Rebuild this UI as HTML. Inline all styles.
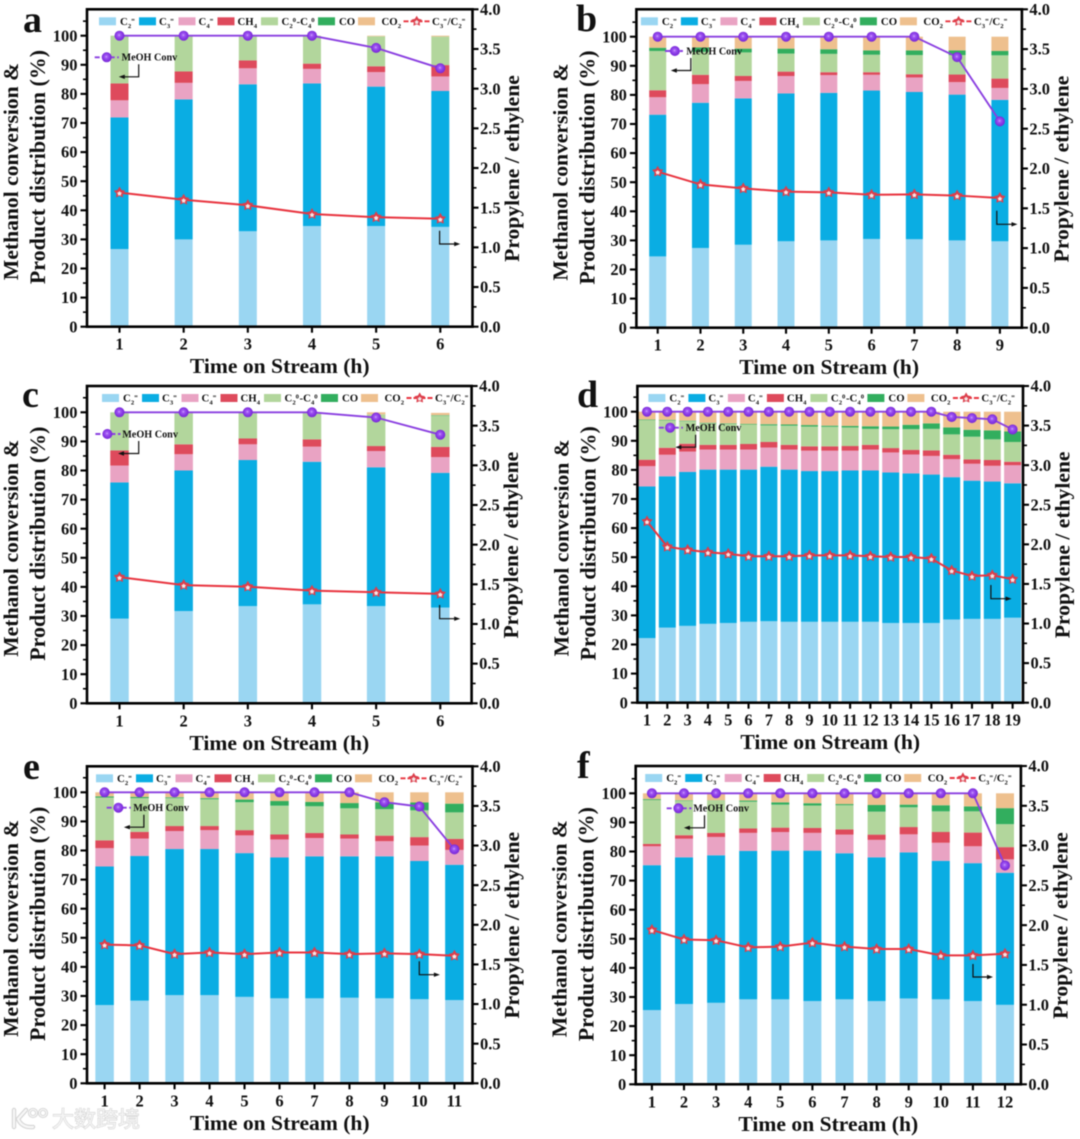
<!DOCTYPE html>
<html lang="en">
<head>
<meta charset="utf-8">
<title>Methanol conversion and product distribution panels</title>
<style>
html,body{margin:0;padding:0;background:#fff;}
body{width:1080px;height:1139px;overflow:hidden;}
#fig{display:block;filter:blur(0.5px);font-family:"Liberation Serif","Noto Serif CJK SC",serif;}
text{font-family:"Liberation Serif","Noto Serif CJK SC",serif;font-weight:bold;fill:#111;}
</style>
</head>
<body>
<svg id="fig" xmlns="http://www.w3.org/2000/svg" width="1080" height="1139" viewBox="0 0 1080 1139">
<defs>
<radialGradient id="sphere" cx="46%" cy="44%" r="58%">
<stop offset="0" stop-color="#d4b4ff"/><stop offset="0.22" stop-color="#a45cf4"/><stop offset="0.6" stop-color="#8a3ce6"/><stop offset="1" stop-color="#7a2ad8"/>
</radialGradient>
</defs>
<g id="panels"></g>
<g>
<g fill="none" stroke="#d4d4d4" stroke-width="4.4" stroke-linecap="round">
<path d="M14 1110V1127M26 1110L18 1119Q22 1128 33 1127"/>
<circle cx="33" cy="1113" r="3.6" stroke-width="3"/><circle cx="43" cy="1113" r="3.6" stroke-width="3"/>
</g>
<g fill="none" stroke="#f7f7f7" stroke-width="2.2" stroke-linecap="round">
<path d="M14 1110V1127M26 1110L18 1119Q22 1128 33 1127"/>
<circle cx="33" cy="1113" r="3.6" stroke-width="1.2"/><circle cx="43" cy="1113" r="3.6" stroke-width="1.2"/>
</g>
<text x="52" y="1127" font-size="22" style="fill:#f4f4f4;stroke:#cdcdcd;stroke-width:.9;paint-order:stroke;font-family:'Noto Sans CJK SC',sans-serif;font-weight:normal;">大数跨境</text>
</g>
</svg>
<script>
// ---------- chart data ----------
const seriesNames = ['C2=','C3=','C4=','CH4','C2-C4 alkanes','CO','CO2'];
const seriesColors = ['#9ad6f2','#0aade3','#e9a3c3','#de4a5c','#b2d69c','#32ae5e','#eec08e'];
const leftTicks = [0,10,20,30,40,50,60,70,80,90,100];
const rightTicks = ['0.0','0.5','1.0','1.5','2.0','2.5','3.0','3.5','4.0'];
const xAxisTitle = 'Time on Stream (h)';
const leftTitleLine1 = 'Methanol conversion &';
const leftTitleLine2 = 'Product distribution (%)';
const rightTitle = 'Propylene / ethylene';
const meohLabel = 'MeOH Conv';

const aCategories = [1,2,3,4,5,6];
const aC2 = [26.7,30,32.8,34.6,34.6,34.3];
const aC3 = [45.2,48.1,50.5,49,47.9,46.7];
const aC4 = [5.9,5.7,5.5,5,5,5];
const aCH4 = [5.8,3.9,2.7,1.8,2,3.9];
const aAlk = [16.4,12.3,8.5,9.6,10.3,9.8];
const aCO = [0,0,0,0,0,0];
const aCO2 = [0,0,0,0,0.2,0.3];
const aMeoh = [100,100,100,100,95.8,88.8];
const aRatio = [1.69,1.6,1.53,1.42,1.38,1.36];

const bCategories = [1,2,3,4,5,6,7,8,9];
const bC2 = [24.5,27.4,28.5,29.7,30,30.5,30.4,30,29.7];
const bC3 = [48.7,49.9,50.3,50.8,50.7,51,50.6,50.1,48.6];
const bC4 = [6,6.4,6,6,6.1,5.4,5,4.3,4.1];
const bCH4 = [2.4,3.2,1.7,1.5,1,0.9,1.1,2.6,3.2];
const bAlk = [13.5,7.9,8.1,6.2,6.3,6,6.6,6.7,8];
const bCO = [1.1,1.5,1.3,1.7,1.6,1.5,1.6,1.6,1.5];
const bCO2 = [3.8,3.7,4.1,4.1,4.3,4.7,4.7,4.7,4.9];
const bMeoh = [100,100,100,100,100,100,100,93,70.9];
const bRatio = [1.96,1.8,1.75,1.71,1.7,1.67,1.675,1.66,1.63];

const cCategories = [1,2,3,4,5,6];
const cC2 = [29.1,31.7,33.4,34,33.4,32.9];
const cC3 = [46.8,48.3,50.2,49,47.7,46.3];
const cC4 = [5.8,5.6,5.4,5.2,5.6,5.4];
const cCH4 = [5.2,3.4,2,2.5,1.7,3.5];
const cAlk = [13.1,11,9,9.3,10.9,10.7];
const cCO = [0,0,0,0,0,0.2];
const cCO2 = [0,0,0,0,0.7,0.8];
const cMeoh = [100,100,100,100,98.2,92.3];
const cRatio = [1.59,1.49,1.47,1.42,1.4,1.38];

const dCategories = [1,2,3,4,5,6,7,8,9,10,11,12,13,14,15,16,17,18,19];
const dC2 = [22.2,25.8,26.4,27.1,27.4,27.8,28,27.8,27.8,27.8,27.8,27.8,27.4,27.4,27.4,28.6,28.8,28.8,29.2];
const dC3 = [52.1,52,52.9,53,52.7,52.3,53.1,52.3,51.8,51.8,52,52,51.7,51.4,51,48.9,47.5,47.2,46.2];
const dC4 = [7,7.4,7,6.9,6.9,6.9,6.6,6.9,7,7,6.8,7.2,6.9,6.5,6.4,6.2,5.8,5.4,6.2];
const dCH4 = [2.2,2.4,2.7,1.6,1.6,1.9,1.9,1.6,1.5,1.5,1.6,1.6,1.5,1.6,1.9,1.5,1.5,2,1.2];
const dAlk = [13.6,9.4,7.7,7.4,7.2,6.7,5.7,6.6,6.8,6.7,6.4,5.5,6.5,7.1,7.4,7,7.8,7.1,6.8];
const dCO = [0.2,0.2,0.2,0.2,0.2,0.2,0.4,0.4,0.5,0.4,0.5,0.9,0.9,1.5,1.9,2.4,2.4,3.1,3.6];
const dCO2 = [2.7,2.8,3.1,3.8,4,4.2,4.3,4.4,4.6,4.8,4.9,5,5.1,4.5,4,5.4,6.2,6.4,6.8];
const dMeoh = [100,100,100,100,100,100,100,100,100,100,100,100,100,100,100,98.2,97.8,97.4,93.9];
const dRatio = [2.29,1.97,1.93,1.9,1.88,1.85,1.85,1.85,1.86,1.86,1.86,1.85,1.84,1.84,1.82,1.67,1.6,1.61,1.56];

const eCategories = [1,2,3,4,5,6,7,8,9,10,11];
const eC2 = [26.9,28.4,30.3,30.3,29.7,29.2,29.2,29.4,29.2,28.9,28.6];
const eC3 = [47.6,49.7,50.2,50.2,49.4,48.4,48.8,48.6,48.8,47.5,46.5];
const eC4 = [6.3,6,6.2,6.5,6.1,6.2,6.3,6.1,5.2,5.3,5.1];
const eCH4 = [2.7,2.3,1.7,1.4,1.8,1.7,1.7,1.4,1.9,2.9,3.8];
const eAlk = [14.7,11.6,9.6,9.2,9.6,9.9,9.2,9,9.1,9.2,9.1];
const eCO = [0.4,0.4,0.3,0.4,0.9,1.6,1.5,1.8,2.4,2.7,3];
const eCO2 = [1.4,1.6,1.7,2,2.5,3,3.3,3.7,3.4,3.5,3.9];
const eMeoh = [100,100,100,100,100,100,100,100,96.6,95.1,80.4];
const eRatio = [1.75,1.74,1.63,1.65,1.63,1.65,1.65,1.63,1.64,1.63,1.61];

const fCategories = [1,2,3,4,5,6,7,8,9,10,11,12];
const fC2 = [25.5,27.6,28,29.2,29.2,28.6,29.2,28.6,29.5,29.2,28.6,27.3];
const fC3 = [49.8,50.4,50.7,51,51.1,51.7,50.2,49.4,50.2,47.6,47.4,45.4];
const fC4 = [6.5,6.4,6.3,6.2,6.4,6.1,6.4,6,6.2,6.2,5.8,4.6];
const fCH4 = [0.8,1.2,1.4,1.5,1.5,1.7,1.8,1.8,2.5,3.7,4.7,4.2];
const fAlk = [15.1,11.8,11.1,9.2,7.9,7.7,8.3,7.9,6.8,7.1,7.3,7.9];
const fCO = [0.3,0.2,0.1,0.4,0.8,0.8,0.4,2.3,0.9,2.1,1.7,5.5];
const fCO2 = [2,2.4,2.4,2.5,3.1,3.4,3.7,4,3.9,4.1,4.5,5.1];
const fMeoh = [100,100,100,100,100,100,100,100,100,100,100,75.2];
const fRatio = [1.94,1.82,1.81,1.72,1.73,1.78,1.73,1.7,1.7,1.62,1.62,1.64];

// ---------- drawing ----------
const NS = 'http://www.w3.org/2000/svg';
const root = document.getElementById('panels');
function mk(parent, tag, attrs, txt) {
  const el = document.createElementNS(NS, tag);
  for (const k in attrs) el.setAttribute(k, attrs[k]);
  if (txt !== undefined) el.textContent = txt;
  parent.appendChild(el);
  return el;
}
function starPts(cx, cy, R, r) {
  const p = [];
  for (let i = 0; i < 10; i++) {
    const a = -Math.PI / 2 + i * Math.PI / 5;
    const q = i % 2 ? r : R;
    p.push((cx + q * Math.cos(a)).toFixed(1) + ',' + (cy + q * Math.sin(a)).toFixed(1));
  }
  return p.join(' ');
}
function drawStar(g, cx, cy, R) {
  const outer = mk(g, 'polygon', {points: starPts(cx, cy, R, R * 0.55), fill: '#dc3f4c'});
  
  
  const inner = mk(g, 'polygon', {points: starPts(cx, cy + 0.9, R * 0.42, R * 0.26), fill: '#f4e6e6'});
  
  
}
function drawSphere(g, cx, cy, r) {
  const c = mk(g, 'circle', {cx: cx, cy: cy, r: r, fill: 'url(#sphere)', stroke: '#7a2ad8', 'stroke-width': 0.6});
  
  
}
function drawElbow(g, x0, y0, x1, y1, name) {
  const line = mk(g, 'path', {d: 'M' + x0 + ' ' + y0 + 'V' + y1 + 'H' + (x1 + (x1 > x0 ? -4 : 4)), fill: 'none', stroke: '#111', 'stroke-width': 1.2});
  
  
  const d = x1 > x0 ? -6 : 6;
  const head = mk(g, 'polygon', {points: x1 + ',' + y1 + ' ' + (x1 + d) + ',' + (y1 - 2.2) + ' ' + (x1 + d) + ',' + (y1 + 2.2), fill: '#111'});
  
  
}
function scriptLabel(parent, x, y, size, base, sub, sup) {
  const t = mk(parent, 'text', {x: x, y: y, 'font-size': size});
  
  
  mk(t, 'tspan', {}, base);
  if (sub) mk(t, 'tspan', {dy: size * 0.28, 'font-size': size * 0.62}, sub);
  if (sup) mk(t, 'tspan', {dy: -size * 0.55, 'font-size': size * 0.62}, sup);
  if (sup) mk(t, 'tspan', {dy: size * 0.27, 'font-size': size * 0.2}, ' ');
  return t;
}
// legend offsets relative to the panel frame
const legendSwatchX = [12,52,91.5,130.5,174,231,271];
const legendTextX = [33,72,111.5,150.5,194.5,251,294.5];

function drawPanel(cfg) {
  const g = mk(root, 'g', {});
  
  
  const L = cfg.left, R = cfg.right, T = cfg.top, B = cfg.bottom;
  const leftMax = (B - T) / 2.91;            // 2.91 px per percentage point
  const yL = v => B - (v / leftMax) * (B - T);
  const yR = v => B - (v / 4) * (B - T);
  const xS = i => cfg.x1 + i * (cfg.xN - cfg.x1) / (cfg.categories.length - 1);

  // bars
  const bars = mk(g, 'g', {});
  
  
  cfg.categories.forEach((cat, i) => {
    let acc = 0;
    cfg.series.forEach((arr, s) => {
      const v = arr[i];
      if (v <= 0) return;
      const y1 = yL(acc + v), y0 = yL(acc);
      const r = mk(bars, 'rect', {x: xS(i) - cfg.barW / 2, y: y1, width: cfg.barW, height: y0 - y1, fill: seriesColors[s]});
      
      
      acc += v;
    });
  });

  // axis frame
  const frame = mk(g, 'rect', {x: L, y: T, width: R - L, height: B - T, fill: 'none', stroke: '#000', 'stroke-width': 2.6});
  
  

  // left axis ticks
  const lAxis = mk(g, 'g', {});
  
  
  for (let v = 0; v <= 105; v += 5) {
    const major = v % 10 === 0;
    const tk = mk(lAxis, 'line', {x1: L - (major ? 6.5 : 4), x2: L, y1: yL(v), y2: yL(v), stroke: '#000', 'stroke-width': major ? 2.1 : 1.6});
    
    
  }
  leftTicks.forEach(v => {
    const t = mk(lAxis, 'text', {x: L - 9.5, y: yL(v) + 5.6, 'font-size': 16.5, 'text-anchor': 'end'}, String(v));
    
    
  });

  // right axis ticks
  const rAxis = mk(g, 'g', {});
  
  
  for (let k = 0; k <= 16; k++) {
    const major = k % 2 === 0;
    const y = yR(k / 4);
    const tk = mk(rAxis, 'line', {x1: R, x2: R + (major ? 6 : 4), y1: y, y2: y, stroke: '#000', 'stroke-width': major ? 2.1 : 1.6});
    
    
  }
  rightTicks.forEach(lbl => {
    const t = mk(rAxis, 'text', {x: R + 7.5, y: yR(parseFloat(lbl)) + 5.6, 'font-size': 16.5}, lbl);
    
    
  });

  // x axis
  const xAxis = mk(g, 'g', {});
  
  
  cfg.categories.forEach((cat, i) => {
    const tk = mk(xAxis, 'line', {x1: xS(i), x2: xS(i), y1: B, y2: B + 6, stroke: '#000', 'stroke-width': 2.1});
    
    
    const t = mk(xAxis, 'text', {x: xS(i), y: B + 23, 'font-size': 16.5, 'text-anchor': 'middle'}, String(cat));
    
    
  });

  // titles
  const xT = mk(g, 'text', {x: (L + R) / 2, y: B + 46.5, 'font-size': 21.6, 'text-anchor': 'middle'}, xAxisTitle);
  
  
  const cy = (T + B) / 2;
  const t1 = mk(g, 'text', {transform: 'translate(' + (L - 69) + ' ' + (cy + 3.5) + ') rotate(-90)', 'font-size': 21.6, 'text-anchor': 'middle'}, leftTitleLine1);
  
  
  const t2 = mk(g, 'text', {transform: 'translate(' + (L - 42) + ' ' + (cy - 1) + ') rotate(-90)', 'font-size': 22, 'text-anchor': 'middle'}, leftTitleLine2);
  
  
  const t3 = mk(g, 'text', {transform: 'translate(' + (R + 46.5) + ' ' + (cy + 0.5) + ') rotate(-90)', 'font-size': 21.6, 'text-anchor': 'middle'}, rightTitle);
  
  

  // panel letter
  const pl = mk(g, 'text', {x: cfg.letterX, y: cfg.letterY, 'font-size': 38}, cfg.id);
  
  

  // conversion line
  const meohPts = cfg.meoh.map((v, i) => xS(i) + ',' + yL(v)).join(' ');
  const ml = mk(g, 'polyline', {points: meohPts, fill: 'none', stroke: '#8a3fe0', 'stroke-width': 1.9});
  
  
  cfg.meoh.forEach((v, i) => drawSphere(g, xS(i), yL(v), 4.7));

  // ratio line
  const ratioPts = cfg.ratio.map((v, i) => xS(i) + ',' + yR(v)).join(' ');
  const rl = mk(g, 'polyline', {points: ratioPts, fill: 'none', stroke: '#e8343f', 'stroke-width': 2});
  
  
  cfg.ratio.forEach((v, i) => drawStar(g, xS(i), yR(v), 6));

  // top legend
  const lg = mk(g, 'g', {});
  
  
  const ly = T + 12, ldx = L + cfg.legendDx;
  seriesColors.forEach((col, s) => {
    const sw = mk(lg, 'rect', {x: ldx + legendSwatchX[s], y: ly - 4, width: 17, height: 8, fill: col});
    
    
  });
  const fs = 10.8, by = ly + 3.6;
  scriptLabel(lg, ldx + legendTextX[0], by, fs, 'C', '2', '=');
  scriptLabel(lg, ldx + legendTextX[1], by, fs, 'C', '3', '=');
  scriptLabel(lg, ldx + legendTextX[2], by, fs, 'C', '4', '=');
  scriptLabel(lg, ldx + legendTextX[3], by, fs, 'CH', '4');
  const alk = scriptLabel(lg, ldx + legendTextX[4], by, fs, 'C', '2', '0');
  mk(alk, 'tspan', {'font-size': fs}, '-C');
  mk(alk, 'tspan', {dy: fs * 0.28, 'font-size': fs * 0.62}, '4');
  mk(alk, 'tspan', {dy: -fs * 0.55, 'font-size': fs * 0.62}, '0');
  scriptLabel(lg, ldx + legendTextX[5] + 1, by, fs, 'CO');
  scriptLabel(lg, ldx + legendTextX[6], by, fs, 'CO', '2');
  const ll = mk(lg, 'line', {x1: ldx + 316.5, x2: ldx + 343, y1: ly, y2: ly, stroke: '#e8343f', 'stroke-width': 1.9, 'stroke-dasharray': '5 2'});
  
  
  drawStar(lg, ldx + 329.7, ly, 5.6);
  const rat = scriptLabel(lg, ldx + 345, by, fs, 'C', '3', '=');
  mk(rat, 'tspan', {'font-size': fs}, '/C');
  mk(rat, 'tspan', {dy: fs * 0.28, 'font-size': fs * 0.62}, '2');
  mk(rat, 'tspan', {dy: -fs * 0.55, 'font-size': fs * 0.62}, '=');

  // MeOH legend + arrows
  const m = cfg.meohLegend;
  const mleg = mk(g, 'line', {x1: m.x0, x2: m.x1, y1: m.y, y2: m.y, stroke: '#8a3fe0', 'stroke-width': 1.9, 'stroke-dasharray': '5 2.5'});
  
  
  drawSphere(g, m.mark, m.y, 4.7);
  const mt = mk(g, 'text', {x: m.text, y: m.y + 3.4, 'font-size': 10.2}, meohLabel);
  
  
  drawElbow(g, m.ax, m.y + 7, m.ax2, m.y + 19.5, 'left-axis-arrow');
  drawElbow(g, cfg.rArrow.x0, cfg.rArrow.y0, cfg.rArrow.x1, cfg.rArrow.y1, 'right-axis-arrow');
}

drawPanel({id:'a',left:87,right:472.5,top:9.3,bottom:326.7,x1:119.5,xN:440.3,barW:18,legendDx:0,letterX:23,letterY:32,
  categories:aCategories,series:[aC2,aC3,aC4,aCH4,aAlk,aCO,aCO2],meoh:aMeoh,ratio:aRatio,
  meohLegend:{x0:94.7,x1:118.8,mark:106.7,text:121.5,y:57.3,ax:138.7,ax2:118.8},
  rArrow:{x0:439.6,y0:230.7,x1:460.2,y1:244}});
drawPanel({id:'b',left:636.4,right:1021.9,top:9.3,bottom:327.7,x1:657.7,xN:999.9,barW:17,legendDx:-7.5,letterX:576,letterY:31,
  categories:bCategories,series:[bC2,bC3,bC4,bCH4,bAlk,bCO,bCO2],meoh:bMeoh,ratio:bRatio,
  meohLegend:{x0:665,x1:682.9,mark:674.9,text:686.3,y:51,ax:690.8,ax2:670.8},
  rArrow:{x0:996.8,y0:210.7,x1:1017.5,y1:224.3}});
drawPanel({id:'c',left:87,right:471.6,top:386,bottom:703.3,x1:119.5,xN:440.3,barW:18.5,legendDx:3,letterX:22,letterY:407,
  categories:cCategories,series:[cC2,cC3,cC4,cCH4,cAlk,cCO,cCO2],meoh:cMeoh,ratio:cRatio,
  meohLegend:{x0:95.4,x1:120.5,mark:107.4,text:122.2,y:434,ax:138.7,ax2:118},
  rArrow:{x0:439.6,y0:605,x1:460.2,y1:618.7}});
drawPanel({id:'d',left:637.4,right:1023,top:386,bottom:702.7,x1:647,xN:1012.6,barW:17,legendDx:-1,letterX:577,letterY:407,
  categories:dCategories,series:[dC2,dC3,dC4,dCH4,dAlk,dCO,dCO2],meoh:dMeoh,ratio:dRatio,
  meohLegend:{x0:658.8,x1:682.9,mark:670.1,text:685.6,y:427.7,ax:695.6,ax2:675.3},
  rArrow:{x0:990.9,y0:585,x1:1011.6,y1:598.7}});
drawPanel({id:'e',left:87,right:472.5,top:766.3,bottom:1083.3,x1:104.6,xN:454.4,barW:18.5,legendDx:-3,letterX:23,letterY:779,
  categories:eCategories,series:[eC2,eC3,eC4,eCH4,eAlk,eCO,eCO2],meoh:eMeoh,ratio:eRatio,
  meohLegend:{x0:106.7,x1:130.8,mark:118.4,text:133.2,y:807.7,ax:143.9,ax2:123.9},
  rArrow:{x0:419.3,y0:961.3,x1:439.9,y1:974.7}});
drawPanel({id:'f',left:635.7,right:1020.9,top:766,bottom:1084.3,x1:651.9,xN:1005,barW:18,legendDx:-2.5,letterX:577,letterY:778,
  categories:fCategories,series:[fC2,fC3,fC4,fCH4,fAlk,fCO,fCO2],meoh:fMeoh,ratio:fRatio,
  meohLegend:{x0:666.7,x1:691.5,mark:678.4,text:693.2,y:808.3,ax:704.5,ax2:683.9},
  rArrow:{x0:973,y0:964,x1:993,y1:977}});
</script>
</body>
</html>
